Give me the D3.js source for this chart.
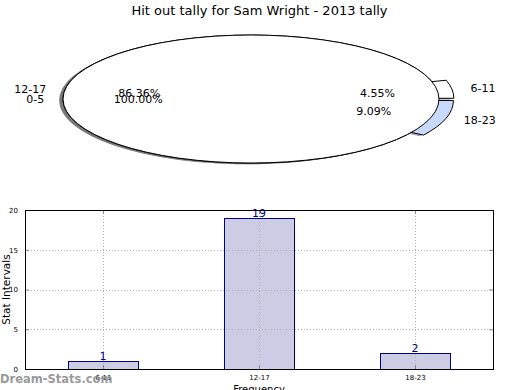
<!DOCTYPE html>
<html>
<head>
<meta charset="utf-8">
<script src="https://cdn.jsdelivr.net/npm/d3@7"></script>
<style>
body { margin: 0; background: #fff; }
svg { font-family: "DejaVu Sans", sans-serif; display: block; }
</style>
</head>
<body>
<div id="chart"></div>
<script>
// data
var title = "Hit out tally for Sam Wright - 2013 tally";
var categories = ["6-11", "12-17", "18-23"];
var counts = [1, 19, 2];
var explode = [0.08, 0, 0.08];
var pieColors = ["#ffffff", "#ffffff", "#c8d9fc"];
var overlayLabels = ["0-5"];
var overlayValues = [1];
var yTicks = [0, 5, 10, 15, 20];

var W = 520, H = 390;
var svg = d3.select("#chart").append("svg").attr("width", W).attr("height", H);

svg.append("text").attr("x", 259.5).attr("y", 15).attr("text-anchor", "middle")
    .style("font-size", "13px").text(title);

// ---- pie (ellipse because the axes are stretched) ----
var cx = 251, cy = 99, rx = 188, ry = 64;
var pie = d3.pie().sort(null).startAngle(Math.PI / 2).endAngle(Math.PI / 2 - 2 * Math.PI);
var arc = d3.arc().innerRadius(0).outerRadius(1);
var pieG = svg.append("g");
var shadowG = pieG.append("g");
var wedgeG = pieG.append("g");
var textG = pieG.append("g");

function drawPie(labels, values, colors, expl) {
    var total = d3.sum(values);
    var arcs = pie(values);
    arcs.forEach(function(a, i) {
        var mid = (a.startAngle + a.endAngle) / 2; // d3 angle, clockwise from north
        var e = expl ? expl[i] : 0;
        var ox = cx + e * rx * Math.sin(mid);
        var oy = cy - e * ry * Math.cos(mid);
        shadowG.append("path").attr("d", arc(a))
            .attr("transform", "translate(" + (ox - 0.02 * rx) + "," + (oy + 0.02 * ry) + ") scale(" + rx + "," + ry + ")")
            .attr("fill", "#4d4d4d").attr("fill-opacity", 0.5);
        wedgeG.append("path").attr("d", arc(a))
            .attr("transform", "translate(" + ox + "," + oy + ") scale(" + rx + "," + ry + ")")
            .attr("fill", colors[i]).attr("stroke", "#000").attr("stroke-width", 1)
            .attr("vector-effect", "non-scaling-stroke");
        var sx = Math.sin(mid), sy = -Math.cos(mid);
        textG.append("text")
            .attr("x", ox + 1.1 * rx * sx).attr("y", oy + 1.1 * ry * sy)
            .attr("dy", "0.35em")
            .attr("text-anchor", sx > 0 ? "start" : "end")
            .style("font-size", "11px").text(labels[i]);
        textG.append("text")
            .attr("x", ox + 0.6 * rx * sx).attr("y", oy + 0.6 * ry * sy)
            .attr("dy", "0.35em").attr("text-anchor", "middle")
            .style("font-size", "11px").text((100 * values[i] / total).toFixed(2) + "%");
    });
}
drawPie(categories, counts, pieColors, explode);
drawPie(overlayLabels, overlayValues, ["#ffffff"], null);

// ---- bar chart ----
var bLeft = 25, bRight = 493, bTop = 210, bBottom = 369;
var x = d3.scaleLinear().domain([-0.5, 2.5]).range([bLeft, bRight]);
var y = d3.scaleLinear().domain([0, 20]).range([bBottom, bTop]);
var bw = x(0.45) - x(0);
var barG = svg.append("g");

barG.selectAll("rect.bar").data(counts).enter().append("rect")
    .attr("x", function(d, i) { return Math.round(x(i) - bw / 2) + 0.5; })
    .attr("y", function(d) { return Math.round(y(d)) + 0.5; })
    .attr("width", Math.round(bw))
    .attr("height", function(d) { return Math.round(y(0)) - Math.round(y(d)); })
    .attr("fill", "#ccccE4").attr("stroke", "#000080").attr("stroke-width", 1);

// grid
barG.selectAll("line.gy").data(yTicks.slice(1, -1)).enter().append("line")
    .attr("x1", bLeft).attr("x2", bRight)
    .attr("y1", function(d) { return Math.round(y(d)) + 0.5; })
    .attr("y2", function(d) { return Math.round(y(d)) + 0.5; })
    .attr("stroke", "#b0b0b0").attr("stroke-dasharray", "1,2");
barG.selectAll("line.gx").data(categories).enter().append("line")
    .attr("x1", function(d, i) { return Math.round(x(i)) + 0.5; })
    .attr("x2", function(d, i) { return Math.round(x(i)) + 0.5; })
    .attr("y1", bTop).attr("y2", bBottom)
    .attr("stroke", "#b0b0b0").attr("stroke-dasharray", "1,2");

// value labels
barG.selectAll("text.val").data(counts).enter().append("text")
    .attr("x", function(d, i) { return x(i); })
    .attr("y", function(d) { return y(d) - 1; })
    .attr("text-anchor", "middle").attr("fill", "#000080")
    .style("font-size", "11px").text(function(d) { return d; });

// axes with inward ticks
var yAxis = d3.axisLeft(y).tickValues(yTicks).tickSizeInner(-4).tickSizeOuter(0).tickPadding(7);
var xAxis = d3.axisBottom(x).tickValues([0, 1, 2]).tickFormat(function(d) { return categories[d]; })
    .tickSizeInner(-4).tickSizeOuter(0).tickPadding(6);
svg.append("g").attr("transform", "translate(" + bLeft + ",0)").call(yAxis);
svg.append("g").attr("transform", "translate(0," + bBottom + ")").call(xAxis);
svg.append("g").attr("transform", "translate(" + bRight + ",0)")
    .call(d3.axisRight(y).tickValues(yTicks).tickSizeInner(-4).tickSizeOuter(0).tickFormat(""));
svg.append("g").attr("transform", "translate(0," + bTop + ")")
    .call(d3.axisTop(x).tickValues([0, 1, 2]).tickSizeInner(-4).tickSizeOuter(0).tickFormat(""));
svg.selectAll(".domain").remove();
svg.selectAll(".tick line").attr("stroke", "#888");
svg.selectAll(".tick text").style("font-size", "7px").style("font-family", "DejaVu Sans, sans-serif");

svg.append("rect").attr("x", bLeft + 0.5).attr("y", bTop + 0.5)
    .attr("width", bRight - bLeft).attr("height", bBottom - bTop)
    .attr("fill", "none").attr("stroke", "#000").attr("stroke-width", 1);

svg.append("text").attr("transform", "translate(6," + 289.5 + ") rotate(-90)")
    .attr("text-anchor", "middle").attr("dy", "0.35em")
    .style("font-size", "10.5px").text("Stat Intervals");
svg.append("text").attr("x", (bLeft + bRight) / 2).attr("y", 393)
    .attr("text-anchor", "middle").style("font-size", "10px").text("Frequency");

svg.append("text").attr("x", 0).attr("y", 383)
    .style("font-size", "11.5px").style("font-weight", "bold").attr("fill", "#8c8c8c")
    .attr("fill-opacity", 0.9).text("Dream-Stats.com");
</script>
</body>
</html>
